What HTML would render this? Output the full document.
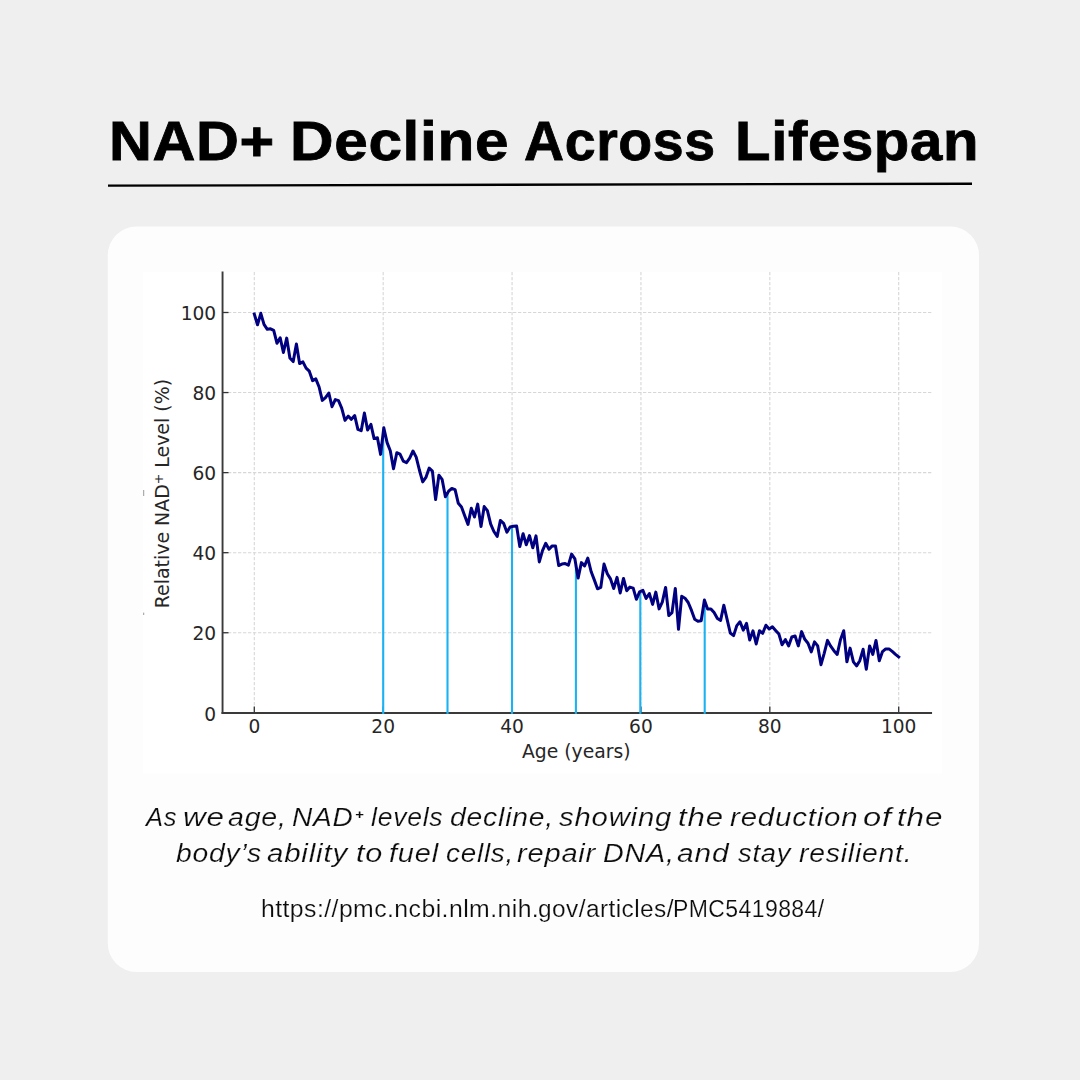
<!DOCTYPE html>
<html lang="en">
<head>
<meta charset="utf-8">
<title>NAD+ Decline Across Lifespan</title>
<style>
  html,body{margin:0;padding:0;}
  body{width:1080px;height:1080px;background:#efefef;position:relative;overflow:hidden;
       font-family:"Liberation Sans",sans-serif;color:#000;}
  .title{position:absolute;left:0;top:0;margin:0;white-space:nowrap;
         font-weight:700;font-size:55px;line-height:1;color:#000;-webkit-text-stroke:0.8px #000;will-change:transform;
         transform-origin:0 0;}
  svg.chart{position:absolute;left:0;top:0;width:1080px;height:1080px;}
  .cap{position:absolute;margin:0;white-space:nowrap;font-style:italic;font-size:26px;line-height:1;color:#0c0c0c;transform-origin:0 0;-webkit-text-stroke:0.18px #fdfdfd;will-change:transform;}
  .title span,.cap span,.url span{position:absolute;top:0;white-space:nowrap;transform-origin:0 0;display:block;}
  .cap sup{font-size:0.53em;line-height:0;vertical-align:0.55em;font-weight:700;font-style:normal;-webkit-text-stroke:0;margin-left:1.4px;}
  .url{position:absolute;margin:0;white-space:nowrap;font-size:22.5px;line-height:1;color:#0c0c0c;transform-origin:0 0;-webkit-text-stroke:0.18px #fdfdfd;will-change:transform;}
</style>
</head>
<body>
  <h1 class="title" id="title" style="top:113.5px;font-size:55px;letter-spacing:0.6px"><span style="left:108.66px;transform:scaleX(1.0797)">NAD+</span> <span style="left:290.46px;transform:scaleX(1.0962)">Decline</span> <span style="left:523.59px;transform:scaleX(1.0088)">Across</span> <span style="left:735.03px;transform:scaleX(1.0571)">Lifespan</span></h1>
  <svg class="chart" viewBox="0 0 1080 1080">
    <rect x="107.8" y="226.6" width="871.2" height="745.3" rx="28.5" ry="28.5" fill="#fdfdfd"/>
    <rect x="143.1" y="271.8" width="799" height="501.8" fill="#ffffff"/>
    <line x1="108" y1="185.63" x2="972" y2="183.72" stroke="#000" stroke-width="2.35"/>
    <g stroke="#d7d7d7" stroke-width="1.1" stroke-dasharray="3.3 1.7" fill="none">
      <line x1="254.3" y1="272" x2="254.3" y2="712" />
      <line x1="383.18" y1="272" x2="383.18" y2="712" />
      <line x1="512.06" y1="272" x2="512.06" y2="712" />
      <line x1="640.94" y1="272" x2="640.94" y2="712" />
      <line x1="769.82" y1="272" x2="769.82" y2="712" />
      <line x1="898.7" y1="272" x2="898.7" y2="712" />
      <line x1="223" y1="632.74" x2="932" y2="632.74" />
      <line x1="223" y1="552.68" x2="932" y2="552.68" />
      <line x1="223" y1="472.62" x2="932" y2="472.62" />
      <line x1="223" y1="392.56" x2="932" y2="392.56" />
      <line x1="223" y1="312.5" x2="932" y2="312.5" />
    </g>
    <g stroke="#333" stroke-width="1.3" fill="none">
      <line x1="254.3" y1="712.8" x2="254.3" y2="706.5" />
      <line x1="383.18" y1="712.8" x2="383.18" y2="706.5" />
      <line x1="512.06" y1="712.8" x2="512.06" y2="706.5" />
      <line x1="640.94" y1="712.8" x2="640.94" y2="706.5" />
      <line x1="769.82" y1="712.8" x2="769.82" y2="706.5" />
      <line x1="898.7" y1="712.8" x2="898.7" y2="706.5" />
      <line x1="222.5" y1="712.8" x2="228.5" y2="712.8" />
      <line x1="222.5" y1="632.74" x2="228.5" y2="632.74" />
      <line x1="222.5" y1="552.68" x2="228.5" y2="552.68" />
      <line x1="222.5" y1="472.62" x2="228.5" y2="472.62" />
      <line x1="222.5" y1="392.56" x2="228.5" y2="392.56" />
      <line x1="222.5" y1="312.5" x2="228.5" y2="312.5" />
    </g>
    <g stroke="#3a3a3a" stroke-width="1.8" fill="none" stroke-linecap="square">
      <line x1="222.55" y1="272.5" x2="222.55" y2="712.8" stroke-width="1.9"/>
      <line x1="222.55" y1="713.0" x2="931" y2="713.0" stroke-width="2.1"/>
    </g>
    <g stroke="#1ab2f2" stroke-width="2.1" fill="none">
      <line x1="383.2" y1="432.8" x2="383.2" y2="713.9" />
      <line x1="447.5" y1="493.1" x2="447.5" y2="713.9" />
      <line x1="512.0" y1="526.6" x2="512.0" y2="713.9" />
      <line x1="575.9" y1="564.9" x2="575.9" y2="713.9" />
      <line x1="640.3" y1="591.6" x2="640.3" y2="713.9" />
      <line x1="704.7" y1="600.8" x2="704.7" y2="713.9" />
    </g>
    <polyline points="254.3,314.1 257.5,324.8 260.8,313.3 264.0,324.4 267.3,329.3 270.5,328.8 273.7,330.4 277.0,343.3 280.2,337.7 283.4,352.5 286.7,338.1 289.9,357.9 293.2,361.6 296.4,344.1 299.6,363.6 302.9,361.9 306.1,368.1 309.3,371.2 312.6,380.7 315.8,378.9 319.1,387.0 322.3,400.4 325.5,397.7 328.8,393.0 332.0,406.7 335.3,399.6 338.5,400.7 341.7,408.1 345.0,420.4 348.2,416.2 351.4,419.3 354.7,415.6 357.9,429.3 361.2,430.7 364.4,413.0 367.6,430.0 370.9,424.4 374.1,438.6 377.4,437.7 380.6,454.4 383.8,427.8 387.1,442.6 390.3,450.7 393.5,468.8 396.8,452.7 400.0,454.1 403.3,461.1 406.5,462.6 409.7,458.1 413.0,451.0 416.2,457.1 419.4,470.0 422.7,481.9 425.9,477.4 429.2,468.1 432.4,471.2 435.6,499.6 438.9,475.2 442.1,479.3 445.4,496.7 448.6,491.2 451.8,488.5 455.1,489.7 458.3,503.3 461.5,507.0 464.8,515.9 468.0,524.4 471.3,508.2 474.5,517.0 477.7,504.1 481.0,526.6 484.2,506.6 487.4,510.7 490.7,524.1 493.9,531.5 497.2,536.4 500.4,520.4 503.6,523.3 506.9,532.2 510.1,527.0 513.4,526.3 516.6,525.9 519.8,546.6 523.1,533.7 526.3,544.8 529.5,535.6 532.8,547.8 536.0,535.9 539.3,561.9 542.5,550.7 545.7,543.3 549.0,549.3 552.2,545.9 555.5,545.9 558.7,565.6 561.9,564.1 565.2,563.6 568.4,565.1 571.6,554.1 574.9,558.9 578.1,578.1 581.4,562.6 584.6,565.9 587.8,558.1 591.1,571.5 594.3,579.9 597.5,588.8 600.8,587.3 604.0,564.1 607.3,573.7 610.5,578.9 613.7,588.5 617.0,577.4 620.2,593.0 623.5,578.4 626.7,590.7 629.9,587.1 633.2,588.1 636.4,599.3 639.6,591.9 642.9,590.4 646.1,598.5 649.4,593.6 652.6,604.4 655.8,592.1 659.1,608.9 662.3,602.2 665.6,587.4 668.8,615.6 672.0,612.6 675.3,588.4 678.5,629.3 681.7,596.3 685.0,598.2 688.2,602.5 691.5,610.4 694.7,619.3 697.9,621.2 701.2,620.7 704.4,600.0 707.6,608.9 710.9,608.9 714.1,612.6 717.4,618.5 720.6,620.4 723.8,605.2 727.1,619.3 730.3,633.0 733.6,635.6 736.8,625.6 740.0,621.8 743.3,630.1 746.5,623.4 749.7,640.0 753.0,630.8 756.2,644.0 759.5,630.7 762.7,633.3 765.9,625.2 769.2,628.9 772.4,626.7 775.6,630.4 778.9,634.1 782.1,644.7 785.4,639.6 788.6,645.9 791.8,637.0 795.1,636.0 798.3,645.9 801.6,631.6 804.8,639.3 808.0,643.3 811.3,651.9 814.5,641.9 817.7,645.9 821.0,664.7 824.2,653.3 827.5,640.4 830.7,646.2 833.9,650.7 837.2,654.4 840.4,640.0 843.7,630.7 846.9,661.8 850.1,648.1 853.4,661.8 856.6,665.9 859.8,660.7 863.1,649.3 866.3,669.3 869.6,645.9 872.8,654.4 876.0,640.4 879.3,660.7 882.5,651.6 885.7,648.9 889.0,648.9 892.2,651.4 895.5,654.4 898.7,657.0" fill="none" stroke="#000080" stroke-width="3" stroke-linejoin="round" stroke-linecap="square"/>
    <g fill="#9a9a9a">
      <rect x="143.2" y="490" width="1" height="6"/>
      <rect x="143.2" y="612.6" width="1" height="2.4"/>
    </g>
    <g font-family="'DejaVu Sans',sans-serif" font-size="18.6" fill="#262626">
      <text x="254.3" y="733.4" text-anchor="middle">0</text>
      <text x="383.18" y="733.4" text-anchor="middle">20</text>
      <text x="512.06" y="733.4" text-anchor="middle">40</text>
      <text x="640.94" y="733.4" text-anchor="middle">60</text>
      <text x="769.82" y="733.4" text-anchor="middle">80</text>
      <text x="898.7" y="733.4" text-anchor="middle">100</text>
      <text x="216.2" y="720.5" text-anchor="end">0</text>
      <text x="216.2" y="640.44" text-anchor="end">20</text>
      <text x="216.2" y="560.38" text-anchor="end">40</text>
      <text x="216.2" y="480.32" text-anchor="end">60</text>
      <text x="216.2" y="400.26" text-anchor="end">80</text>
      <text x="216.2" y="320.2" text-anchor="end">100</text>
      <text id="xlabel" x="576.3" y="758" text-anchor="middle" textLength="108.6" lengthAdjust="spacingAndGlyphs">Age (years)</text>
      <text id="ylabel" transform="translate(169.3 493.6) rotate(-90)" text-anchor="middle" font-size="18.95">Relative NAD<tspan font-size="12.5" dy="-6.5">+</tspan><tspan dy="6.5"> Level (%)</tspan></text>
    </g>
  </svg>
  <p class="cap" id="cap1" style="top:805.0px;font-size:25px;letter-spacing:0.7px"><span style="left:146.02px;transform:scaleX(1.02)">As</span> <span style="left:183.15px;transform:scaleX(1.2548)">we</span> <span style="left:228.26px;transform:scaleX(1.1426)">age,</span> <span style="left:292.18px;transform:scaleX(1.1222)">NAD<sup>+</sup></span> <span style="left:370.74px;transform:scaleX(1.0621)">levels</span> <span style="left:449.97px;transform:scaleX(1.1333)">decline,</span> <span style="left:558.8px;transform:scaleX(1.1705)">showing</span> <span style="left:678.15px;transform:scaleX(1.2471)">the</span> <span style="left:729.62px;transform:scaleX(1.1774)">reduction</span> <span style="left:863.1px;transform:scaleX(1.3045)">of</span> <span style="left:896.54px;transform:scaleX(1.2559)">the</span></p>
  <p class="cap" id="cap2" style="top:841.0px;font-size:25px;letter-spacing:0.7px"><span style="left:176.37px;transform:scaleX(1.1301)">body’s</span> <span style="left:267.12px;transform:scaleX(1.1765)">ability</span> <span style="left:355.97px;transform:scaleX(1.225)">to</span> <span style="left:388.84px;transform:scaleX(1.1571)">fuel</span> <span style="left:445.79px;transform:scaleX(1.1125)">cells,</span> <span style="left:516.64px;transform:scaleX(1.1612)">repair</span> <span style="left:602.85px;transform:scaleX(1.1483)">DNA,</span> <span style="left:677.1px;transform:scaleX(1.1953)">and</span> <span style="left:738.0px;transform:scaleX(1.0939)">stay</span> <span style="left:799.47px;transform:scaleX(1.1326)">resilient.</span></p>
  <p class="url" id="url" style="top:898.2px;font-size:23px;letter-spacing:0.4px"><span style="left:261.14px;transform:scaleX(1.0783)">https://pmc.ncbi.nlm.nih.</span><span style="left:537.84px;transform:scaleX(1.0627)">gov/articles/</span><span style="left:673.3px;transform:scaleX(1.0007)">PMC5419884/</span></p>
</body>
</html>
